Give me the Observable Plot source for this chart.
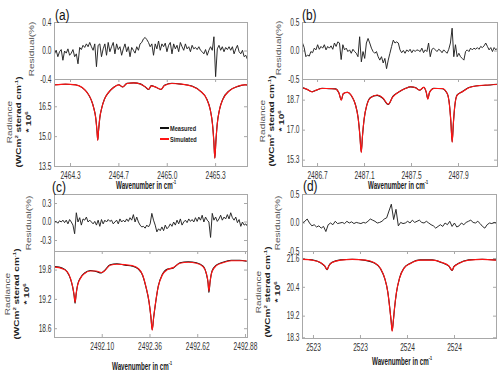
<!DOCTYPE html>
<html><head><meta charset="utf-8">
<script src="https://cdn.jsdelivr.net/npm/d3@7"></script>
<script src="https://cdn.jsdelivr.net/npm/@observablehq/plot@0.6"></script>
<style>
html,body{margin:0;padding:0;background:#fff;}
#wrap{position:relative;width:500px;height:373px;overflow:hidden;background:#fff;font-family:"Liberation Sans",Arial,sans-serif;}
.rot{position:absolute;white-space:nowrap;text-align:center;transform:translate(-50%,-50%) rotate(-90deg) scale(1,0.68);}
.xt{position:absolute;white-space:nowrap;font-weight:bold;font-size:10px;color:#1a1a1a;transform:translate(-50%,-50%) scale(0.62,1);}
.pl{position:absolute;font-size:14px;color:#111;transform:translate(0,-50%) scale(0.85,1);transform-origin:0 50%;}
.lg{position:absolute;font-size:7px;font-weight:bold;color:#222;transform:translate(0,-50%) scale(0.8,1);transform-origin:0 50%;white-space:nowrap;}
.ll{position:absolute;height:1.3px;width:9px;}
</style></head><body><div id="wrap"></div>
<script>
// ---------- data ----------
const residualA = [-0.04,0.01,-0.08,-0.01,0.02,-0.13,0.00,-0.03,0.03,-0.06,-0.03,0.02,-0.08,-0.04,-0.18,0.05,0.02,0.08,0.05,0.10,0.06,0.12,0.06,0.01,0.10,-0.22,0.08,0.10,-0.08,0.03,0.10,-0.06,0.12,-0.01,0.06,0.12,-0.04,0.10,0.02,0.06,-0.06,0.03,0.10,-0.01,0.06,-0.08,0.05,0.01,-0.03,0.06,0.01,0.10,0.12,0.17,0.19,0.16,0.12,0.06,0.10,-0.06,0.10,0.03,0.14,0.01,0.10,0.06,0.11,-0.01,0.08,0.12,-0.04,0.10,0.03,0.08,-0.01,0.12,0.06,0.01,0.10,0.03,0.06,-0.01,0.08,0.03,0.05,0.02,0.06,0.01,-0.01,-0.04,0.02,-0.06,0.01,0.06,0.01,0.20,-0.36,0.03,0.08,0.01,0.06,-0.01,0.05,0.02,0.06,0.01,0.06,-0.04,0.03,0.08,-0.01,-0.04,0.01,-0.08,-0.06,-0.12];
const residualB = [0.14,0.06,-0.10,-0.07,-0.09,-0.01,-0.03,0.05,0.02,0.11,0.03,0.08,0.05,0.11,0.02,0.08,0.05,0.09,0.03,0.14,0.08,0.16,0.14,-0.15,0.11,0.02,0.05,-0.01,0.02,-0.04,0.03,-0.01,-0.04,-0.10,0.25,-0.19,-0.01,-0.13,0.14,0.22,0.14,0.05,-0.01,-0.04,-0.01,-0.10,-0.16,-0.10,-0.21,-0.13,-0.31,-0.16,-0.04,0.08,0.19,0.14,0.16,0.14,0.02,-0.03,0.01,-0.04,0.02,-0.01,0.03,-0.03,0.02,-0.01,0.02,0.01,-0.01,0.05,-0.03,0.02,-0.01,0.14,-0.10,0.03,0.05,0.02,-0.01,0.03,0.01,-0.03,0.02,-0.01,-0.04,0.03,0.14,0.40,-0.10,0.11,-0.10,-0.04,-0.10,-0.13,-0.16,-0.01,0.02,-0.01,0.05,0.02,0.05,0.03,0.06,0.03,0.08,0.06,0.09,0.14,0.08,0.02,0.06,-0.01,0.06,0.02,0.05];
const residualC = [0.00,0.01,-0.02,0.02,0.00,0.03,-0.01,0.03,-0.03,0.04,0.00,-0.05,-0.19,0.15,0.00,0.07,-0.05,0.05,0.03,0.08,0.00,0.03,0.00,-0.03,0.01,-0.05,0.03,-0.07,0.04,-0.03,0.03,0.00,0.04,0.01,0.03,-0.03,0.00,0.03,-0.03,0.05,0.00,0.03,0.00,0.05,0.01,0.07,0.03,0.12,0.00,0.08,0.00,-0.05,-0.08,-0.07,-0.10,-0.05,-0.08,-0.03,0.14,0.03,-0.05,-0.16,-0.11,-0.14,-0.08,-0.14,-0.05,-0.11,-0.08,-0.03,-0.07,0.00,-0.05,0.03,-0.03,0.05,-0.05,0.00,0.03,-0.01,0.05,0.01,0.04,0.00,0.07,0.01,0.08,0.03,0.11,0.00,0.08,0.03,0.00,-0.25,0.14,0.03,0.08,0.01,0.05,0.11,0.03,0.08,0.05,0.12,0.05,0.15,0.07,0.03,0.08,-0.01,0.04,-0.07,0.00,-0.05,-0.03,-0.07];
const residualD = [0.00,0.03,0.07,0.00,-0.05,-0.03,-0.07,-0.05,-0.09,-0.06,-0.15,-0.03,0.00,-0.03,0.03,-0.01,0.00,0.01,-0.01,0.03,0.00,0.02,-0.01,0.01,0.00,-0.01,0.01,0.00,0.03,0.07,0.05,0.03,0.00,0.01,0.03,0.07,0.09,0.21,0.33,0.06,0.24,-0.05,0.01,-0.01,0.00,0.03,0.00,0.05,0.01,0.03,0.05,0.01,0.00,0.03,0.00,-0.03,-0.05,-0.09,-0.06,-0.03,-0.06,0.00,-0.03,0.03,-0.06,0.00,-0.07,-0.05,0.00,-0.03,0.01,0.03,0.05,0.01,0.00,0.03,-0.01,-0.06,-0.09,-0.03,0.00,-0.01,0.01,0.00];

const waveA = [2464.226,2464.299,2464.368,2464.414,2464.448,2464.475,2464.493,2464.507,2464.516,2464.521,2464.526,2464.535,2464.549,2464.567,2464.594,2464.631,2464.666,2464.693,2464.723,2464.769,2464.814,2464.849,2464.872,2464.890,2464.918,2464.957,2464.981,2465.032,2465.101,2465.170,2465.227,2465.273,2465.296,2465.312,2465.321,2465.328,2465.335,2465.344,2465.360,2465.383,2465.428,2465.486,2465.536,2465.552];
const simA = [17.60,17.64,17.60,17.47,17.21,16.87,16.45,15.94,15.26,14.81,15.26,15.94,16.45,16.87,17.21,17.47,17.60,17.50,17.67,17.70,17.64,17.50,17.38,17.55,17.50,17.38,17.57,17.67,17.64,17.53,17.30,16.87,16.36,15.60,14.75,13.91,14.75,15.60,16.36,16.87,17.30,17.53,17.60,17.60];
const measA = [17.61,17.63,17.61,17.46,17.22,16.86,16.46,15.95,15.28,14.83,15.25,15.93,16.46,16.88,17.20,17.48,17.61,17.49,17.68,17.70,17.65,17.49,17.37,17.56,17.49,17.37,17.58,17.68,17.63,17.54,17.29,16.88,16.37,15.62,14.77,13.93,14.74,15.61,16.35,16.88,17.31,17.52,17.61,17.59];

const waveB = [2486.570,2486.612,2486.655,2486.689,2486.740,2486.796,2486.853,2486.881,2486.902,2486.919,2486.953,2486.995,2487.023,2487.046,2487.060,2487.072,2487.083,2487.097,2487.120,2487.151,2487.208,2487.256,2487.301,2487.341,2487.392,2487.449,2487.492,2487.534,2487.568,2487.605,2487.625,2487.639,2487.653,2487.690,2487.761,2487.804,2487.823,2487.835,2487.846,2487.857,2487.869,2487.889,2487.932,2487.988,2488.059,2488.130,2488.230];
const simB = [19.40,19.31,19.17,19.27,19.36,19.36,19.33,19.14,18.70,19.08,19.14,18.89,18.42,17.66,16.72,15.73,16.72,17.66,18.42,18.83,18.99,18.83,18.47,18.89,19.17,19.36,19.46,19.40,19.27,19.42,19.17,18.76,19.14,19.36,19.36,19.08,18.42,17.47,16.30,17.47,18.42,18.99,19.17,19.40,19.51,19.55,19.59];
const measB = [19.41,19.30,19.18,19.26,19.37,19.35,19.34,19.12,18.72,19.06,19.15,18.87,18.44,17.68,16.75,15.76,16.70,17.64,18.43,18.85,18.97,18.80,18.45,18.91,19.16,19.37,19.45,19.41,19.26,19.43,19.15,18.78,19.13,19.37,19.35,19.07,18.44,17.50,16.34,17.45,18.40,19.00,19.18,19.41,19.52,19.54,19.60];

const waveC = [2491.842,2491.882,2491.909,2491.927,2491.939,2491.947,2491.952,2491.958,2491.966,2491.981,2492.004,2492.035,2492.066,2492.095,2492.112,2492.143,2492.180,2492.225,2492.264,2492.297,2492.320,2492.338,2492.355,2492.365,2492.372,2492.380,2492.391,2492.405,2492.427,2492.456,2492.486,2492.523,2492.568,2492.613,2492.649,2492.667,2492.676,2492.681,2492.687,2492.698,2492.721,2492.757,2492.803,2492.848,2492.884];
const simC = [19.86,19.83,19.77,19.63,19.46,19.29,19.14,19.32,19.49,19.63,19.73,19.78,19.78,19.75,19.78,19.90,19.92,19.91,19.89,19.83,19.70,19.46,19.15,18.84,18.57,18.84,19.15,19.46,19.70,19.81,19.85,19.94,19.96,19.94,19.87,19.73,19.56,19.37,19.56,19.77,19.89,19.95,19.99,19.99,19.99];
const measC = [19.87,19.84,19.76,19.62,19.45,19.27,19.12,19.31,19.50,19.64,19.74,19.79,19.77,19.74,19.79,19.91,19.93,19.90,19.88,19.82,19.69,19.45,19.14,18.84,18.58,18.83,19.14,19.47,19.71,19.82,19.84,19.95,19.97,19.95,19.88,19.72,19.54,19.34,19.55,19.78,19.90,19.96,20.00,20.00,19.98];

const waveD = [2522.932,2522.992,2523.045,2523.072,2523.087,2523.098,2523.119,2523.172,2523.247,2523.332,2523.385,2523.428,2523.455,2523.474,2523.487,2523.496,2523.502,2523.509,2523.517,2523.530,2523.549,2523.576,2523.619,2523.683,2523.758,2523.821,2523.864,2523.885,2523.896,2523.927,2523.991,2524.077,2524.162];
const simD = [21.56,21.53,21.43,21.29,21.14,21.29,21.43,21.53,21.56,21.53,21.43,21.18,20.77,20.21,19.52,18.96,18.57,18.96,19.52,20.21,20.77,21.18,21.39,21.53,21.53,21.43,21.29,21.11,21.25,21.39,21.53,21.56,21.53];
const measD = [21.57,21.54,21.42,21.28,21.13,21.30,21.44,21.54,21.57,21.52,21.42,21.17,20.76,20.22,19.54,18.98,18.60,18.95,19.51,20.20,20.78,21.19,21.40,21.54,21.54,21.42,21.28,21.10,21.26,21.40,21.54,21.57,21.54];

const xTicksA = [2464.3333,2464.6667,2465.0,2465.3333], xLabelsA = ["2464.3","2464.7","2465.0","2465.3"];
const xTicksB = [2486.7,2487.1,2487.5,2487.9],          xLabelsB = ["2486.7","2487.1","2487.5","2487.9"];
const xTicksC = [2492.10,2492.36,2492.62,2492.88],      xLabelsC = ["2492.10","2492.36","2492.62","2492.88"];
const xTicksD = [2523.0,2523.3,2523.6,2523.9],          xLabelsD = ["2523","2523","2524","2524"];
const resTicksA = [-0.4,0,0.4], resLabelsA = ["-0.4","0.0","0.4"];
const resTicksB = [-0.5,0,0.5], resLabelsB = ["-0.5","0.0","0.5"];
const resTicksC = [-0.3,0,0.3], resLabelsC = ["-0.3","0.0","0.3"];
const resTicksD = [-0.5,0,0.5], resLabelsD = ["-0.5","0.0","0.5"];
const radTicksA = [13.5,15.0,16.5], radLabelsA = ["13.5","15.0","16.5"];
const radTicksB = [15.3,17.0,18.7], radLabelsB = ["15.3","17.0","18.7"];
const radTicksC = [18.6,19.2,19.8], radLabelsC = ["18.6","19.2","19.8"];
const radTicksD = [18.3,19.2,20.4,21.6], radLabelsD = ["18.3","19.2","20.4","21.6"];
const panelNames = ["(a)","(b)","(c)","(d)"];
const legendNames = ["Measured","Simulated"];

// ---------- layout ----------
const W = 500, H = 373, FRAME = "#a8a8a8", RED = "#ff1414", FONT = '"Liberation Sans", Arial, sans-serif';
const panels = [
  {name:panelNames[0], x0:54, x1:247, r0:22, r1:79, l0:79, l1:166, xDomain:[2464.223,2465.553], resDomain:[-0.4,0.4], radDomain:[13.5,17.87],
   residual:residualA, wave:waveA, sim:simA, meas:measA, xTicks:xTicksA, xLabels:xLabelsA, resTicks:resTicksA, resLabels:resLabelsA, radTicks:radTicksA, radLabels:radLabelsA,
   lab:[55,15], xt:[146,185], res:[31.5,49], rad:[19,122]},
  {name:panelNames[1], x0:302, x1:497, r0:22, r1:79, l0:79, l1:166, xDomain:[2486.572,2488.232], resDomain:[-0.5,0.5], radDomain:[14.94,19.87],
   residual:residualB, wave:waveB, sim:simB, meas:measB, xTicks:xTicksB, xLabels:xLabelsB, resTicks:resTicksB, resLabels:resLabelsB, radTicks:radTicksB, radLabels:radLabelsB,
   lab:[302,15], xt:[398,185], res:[278.5,48], rad:[271.5,121]},
  {name:panelNames[2], x0:54, x1:247, r0:194, r1:251, l0:251, l1:337, xDomain:[2491.84,2492.891], resDomain:[-0.478,0.446], radDomain:[18.42,20.18],
   residual:residualC, wave:waveC, sim:simC, meas:measC, xTicks:xTicksC, xLabels:xLabelsC, resTicks:resTicksC, resLabels:resLabelsC, radTicks:radTicksC, radLabels:radLabelsC,
   lab:[52,187], xt:[142,366], res:[28.5,223], rad:[17,294]},
  {name:panelNames[3], x0:302, x1:496, r0:194, r1:251, l0:251, l1:338, xDomain:[2522.93,2524.168], resDomain:[-0.5,0.5], radDomain:[18.27,21.89],
   residual:residualD, wave:waveD, sim:simD, meas:measD, xTicks:xTicksD, xLabels:xLabelsD, resTicks:resTicksD, resLabels:resLabelsD, radTicks:radTicksD, radLabels:radLabelsD,
   lab:[303,186], xt:[402,361], res:[278,223], rad:[268,292]}
];

const wrap = document.getElementById("wrap");

function place(svg){
  svg.style.position = "absolute"; svg.style.left = "0px"; svg.style.top = "0px"; svg.style.maxWidth = "none";
  wrap.appendChild(svg);
  svg.querySelectorAll("text").forEach(t => {
    const w = t.getComputedTextLength();
    if (w > 0) { t.setAttribute("textLength", (w * 0.66).toFixed(2)); t.setAttribute("lengthAdjust", "spacingAndGlyphs"); }
  });
}
function fmt(ticks, labels){ return d => labels[ticks.indexOf(d)]; }

panels.forEach(p => {
  const fw = p.x1 - p.x0;
  const base = {width: W, height: H, marginLeft: p.x0, marginRight: W - p.x1,
    style: {background: "transparent", fontFamily: FONT, fontSize: "10px", color: "#333", overflow: "visible"}};
  const n = p.residual.length;
  const resData = p.residual.map((v, i) => ({w: p.xDomain[0] + i * (p.xDomain[1] - p.xDomain[0]) / (n - 1), v}));
  const radH = p.l1 - p.l0;

  const resPlot = Plot.plot({...base, marginTop: p.r0, marginBottom: H - p.r1,
    x: {domain: p.xDomain, axis: null, label: null}, y: {domain: p.resDomain, axis: null, label: null},
    marks: [
      Plot.tickY(p.resTicks, {y: d => d, stroke: FRAME, insetRight: fw - 3}),
      Plot.tickY(p.resTicks, {y: d => d, stroke: FRAME, insetLeft: fw - 3}),
      Plot.line(resData, {x: "w", y: "v", stroke: "#222", strokeWidth: 0.95, clip: true}),
      Plot.axisY(p.resTicks, {anchor: "left", label: null, tickSize: 0, tickPadding: 3, tickFormat: fmt(p.resTicks, p.resLabels)}),
      Plot.frame({stroke: FRAME})
    ]});
  place(resPlot);

  const meas = p.wave.map((w, i) => ({w, v: p.meas[i]}));
  const sim = p.wave.map((w, i) => ({w, v: p.sim[i]}));
  const radPlot = Plot.plot({...base, marginTop: p.l0, marginBottom: H - p.l1,
    x: {domain: p.xDomain, axis: null, label: null}, y: {domain: p.radDomain, axis: null, label: null},
    marks: [
      Plot.tickX(p.xTicks, {x: d => d, stroke: FRAME, insetTop: radH - 3}),
      Plot.tickX(p.xTicks, {x: d => d, stroke: FRAME, insetBottom: radH - 3}),
      Plot.tickY(p.radTicks, {y: d => d, stroke: FRAME, insetRight: fw - 3}),
      Plot.tickY(p.radTicks, {y: d => d, stroke: FRAME, insetLeft: fw - 3}),
      Plot.line(meas, {x: "w", y: "v", stroke: "#111", strokeWidth: 1.1, curve: "monotone-x", clip: true}),
      Plot.line(sim, {x: "w", y: "v", stroke: RED, strokeWidth: 1.15, curve: "monotone-x", clip: true}),
      Plot.axisY(p.radTicks, {anchor: "left", label: null, tickSize: 0, tickPadding: 3, tickFormat: fmt(p.radTicks, p.radLabels)}),
      Plot.axisX(p.xTicks, {anchor: "bottom", label: null, tickSize: 0, tickPadding: 5, tickFormat: fmt(p.xTicks, p.xLabels)}),
      Plot.frame({stroke: FRAME})
    ]});
  place(radPlot);

  // titles
  const lab = document.createElement("div"); lab.className = "pl";
  lab.style.left = p.lab[0] + "px"; lab.style.top = p.lab[1] + "px"; lab.textContent = p.name; wrap.appendChild(lab);

  const xt = document.createElement("div"); xt.className = "xt";
  xt.style.left = p.xt[0] + "px"; xt.style.top = p.xt[1] + "px";
  xt.innerHTML = "Wavenumber in cm<sup style='font-size:6px'>-1</sup>"; wrap.appendChild(xt);

  const rl = document.createElement("div"); rl.className = "rot";
  rl.style.left = p.res[0] + "px"; rl.style.top = p.res[1] + "px"; rl.style.fontSize = "10px"; rl.style.color = "#555";
  rl.textContent = "Residual(%)"; wrap.appendChild(rl);

  const rd = document.createElement("div"); rd.className = "rot";
  rd.style.left = p.rad[0] + "px"; rd.style.top = p.rad[1] + "px"; rd.style.fontSize = "10px"; rd.style.lineHeight = "11.5px";
  rd.innerHTML = "<span style='color:#555'>Radiance</span><br><b style='color:#222'>(WCm<sup style='font-size:6px'>2</sup> sterad cm<sup style='font-size:6px'>-1</sup>)</b><br><b style='color:#222'>* 10<sup style='font-size:6px'>6</sup></b>";
  wrap.appendChild(rd);
});

// legend in panel (a)
[["#111", 128], [RED, 139]].forEach(([c, y], i) => {
  const l = document.createElement("div"); l.className = "ll";
  l.style.left = "160px"; l.style.top = (y - 0.65) + "px"; l.style.background = c; wrap.appendChild(l);
  const t = document.createElement("div"); t.className = "lg";
  t.style.left = "170px"; t.style.top = y + "px"; t.textContent = legendNames[i]; wrap.appendChild(t);
});
</script></body></html>
